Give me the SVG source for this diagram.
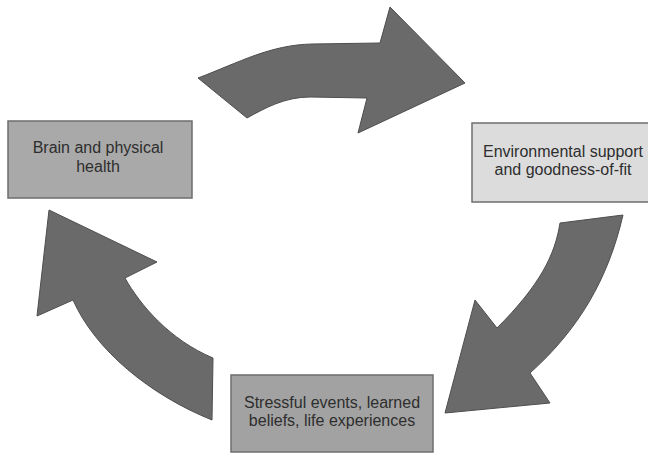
<svg xmlns="http://www.w3.org/2000/svg" width="648" height="454" viewBox="0 0 648 454">
<style>
.box{stroke:#6e6e6e;stroke-width:1.5}
.arrow{fill:#6a6a6a;stroke:#4e4e4e;stroke-width:1;stroke-linejoin:miter}
text{font-family:"Liberation Sans",Arial,sans-serif;font-size:16px;fill:#2e2e2e;text-anchor:middle}
</style>
<rect width="648" height="454" fill="#ffffff"/>
<g id="connectors">
<path class="arrow" d="M198,78 C240,62 270,45 312,44 L380,43 L390,7 L465,83 L358,133 L367,98 L310,97 C285,97 265,108 247,118 Z"/>
<path class="arrow" d="M560,223 L623,215 C608,280 578,330 530,373 L550,403 L445,413 L475,300 L497,328 C540,285 555,255 560,223 Z"/>
<path class="arrow" d="M49,210 L157,262 L125,278 C140,305 170,340 213,358 L212,420 C150,395 95,350 73,300 L37,316 Z"/>
</g>
<g id="node-brain">
<rect class="box" x="8" y="121" width="184" height="77" fill="#a9a9a9"/>
<text x="98" y="153">Brain and physical</text>
<text x="98" y="172">health</text>
</g>
<g id="node-environment">
<rect class="box" x="472" y="123" width="184" height="79" fill="#dcdcdc"/>
<text x="563" y="157">Environmental support</text>
<text x="563" y="175">and goodness-of-fit</text>
</g>
<g id="node-stress">
<rect class="box" x="231" y="375" width="202" height="77" fill="#a2a2a2"/>
<text x="332" y="408">Stressful events, learned</text>
<text x="332" y="426">beliefs, life experiences</text>
</g>
</svg>
